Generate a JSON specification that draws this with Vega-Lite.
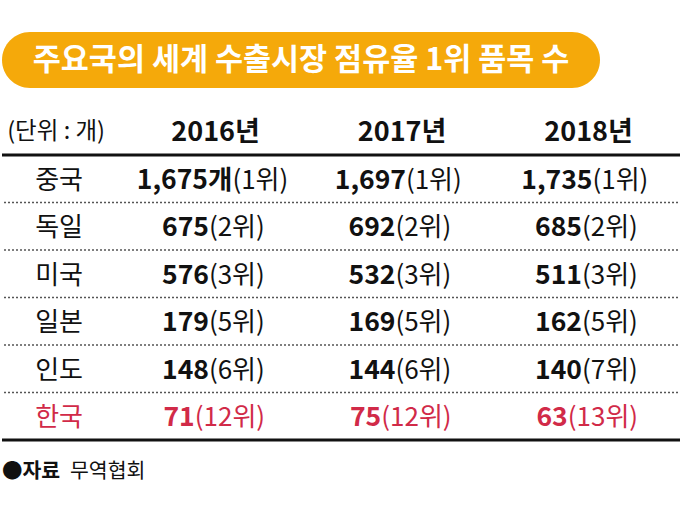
{
  "$schema": "https://vega.github.io/schema/vega-lite/v6.json",
  "padding": {"top": 32, "left": 0, "right": 0, "bottom": 0},
  "background": "white",
  "config": {"view": {"stroke": null}, "font": "Noto Sans CJK KR", "text": {"font": "Noto Sans CJK KR"}},
  "spacing": 19.5,
  "resolve": {"scale": {"x": "independent", "y": "independent"}},
  "vconcat": [
    {
      "width": 598,
      "height": 56,
      "data": {"values": [{"title": "주요국의 세계 수출시장 점유율 1위 품목 수"}]},
      "layer": [
        {"mark": {"type": "rect", "color": "#f5a90a", "cornerRadius": 28}, "encoding": {}},
        {"mark": {"type": "text", "color": "white", "fontSize": 30.5, "fontWeight": "bold", "dy": 1}, "encoding": {"text": {"field": "title"}}}
      ]
    },
    {
      "width": 680,
      "height": 332.5,
      "data": {"values": [
        {"country": "중국", "year": 2016, "count": 1675, "rank": 1, "unit": "개"},
        {"country": "중국", "year": 2017, "count": 1697, "rank": 1, "unit": ""},
        {"country": "중국", "year": 2018, "count": 1735, "rank": 1, "unit": ""},
        {"country": "독일", "year": 2016, "count": 675, "rank": 2, "unit": ""},
        {"country": "독일", "year": 2017, "count": 692, "rank": 2, "unit": ""},
        {"country": "독일", "year": 2018, "count": 685, "rank": 2, "unit": ""},
        {"country": "미국", "year": 2016, "count": 576, "rank": 3, "unit": ""},
        {"country": "미국", "year": 2017, "count": 532, "rank": 3, "unit": ""},
        {"country": "미국", "year": 2018, "count": 511, "rank": 3, "unit": ""},
        {"country": "일본", "year": 2016, "count": 179, "rank": 5, "unit": ""},
        {"country": "일본", "year": 2017, "count": 169, "rank": 5, "unit": ""},
        {"country": "일본", "year": 2018, "count": 162, "rank": 5, "unit": ""},
        {"country": "인도", "year": 2016, "count": 148, "rank": 6, "unit": ""},
        {"country": "인도", "year": 2017, "count": 144, "rank": 6, "unit": ""},
        {"country": "인도", "year": 2018, "count": 140, "rank": 7, "unit": ""},
        {"country": "한국", "year": 2016, "count": 71, "rank": 12, "unit": ""},
        {"country": "한국", "year": 2017, "count": 75, "rank": 12, "unit": ""},
        {"country": "한국", "year": 2018, "count": 63, "rank": 13, "unit": ""}
      ]},
      "transform": [
        {"calculate": "format(datum.count, ',') + datum.unit", "as": "numText"},
        {"calculate": "'(' + datum.rank + '위)'", "as": "rankText"},
        {"calculate": "datum.year + '년'", "as": "yearText"},
        {"calculate": "length(toString(datum.count)) * 14.5 + (datum.count >= 1000 ? 6.5 : 0) + length(datum.unit) * 26", "as": "wNum"},
        {"calculate": "17 + length(toString(datum.rank)) * 13.8 + 26", "as": "wRank"},
        {"calculate": "datum.year + (datum.wNum - datum.wRank) / 2 / 186.5", "as": "xs"}
      ],
      "layer": [
        {
          "transform": [{"filter": "datum.year === 2016"}],
          "mark": {"type": "text", "fontSize": 26, "dy": 2},
          "encoding": {
            "x": {"datum": 2015.161, "type": "quantitative", "scale": {"domain": [2014.855, 2018.501], "nice": false, "zero": false}, "axis": null},
            "y": {"field": "country", "type": "nominal", "scale": {"type": "band", "domain": ["(단위 : 개)", "중국", "독일", "미국", "일본", "인도", "한국"], "paddingInner": 0, "paddingOuter": 0}, "axis": null},
            "text": {"field": "country"},
            "color": {"condition": {"test": "datum.country === '한국'", "value": "#d12a48"}, "value": "#111111"}
          }
        },
        {
          "transform": [{"filter": "datum.year === 2016 && datum.country !== '중국'"}],
          "mark": {"type": "rule", "color": "#555555", "strokeWidth": 1.5, "strokeDash": [2, 2]},
          "encoding": {"y": {"field": "country", "type": "nominal", "bandPosition": 0}}
        },
        {
          "transform": [{"filter": "datum.year === 2016 && datum.country === '중국'"}],
          "mark": {"type": "rule", "color": "#111111", "strokeWidth": 3},
          "encoding": {"y": {"field": "country", "type": "nominal", "bandPosition": 0}}
        },
        {
          "transform": [{"filter": "datum.year === 2016 && datum.country === '한국'"}],
          "mark": {"type": "rule", "color": "#111111", "strokeWidth": 3},
          "encoding": {"y": {"field": "country", "type": "nominal", "bandPosition": 1}}
        },
        {
          "transform": [{"filter": "datum.country === '중국'"}],
          "mark": {"type": "text", "fontSize": 27, "fontWeight": "bold", "color": "#111111", "dy": 2},
          "encoding": {
            "x": {"field": "year", "type": "quantitative"},
            "y": {"datum": "(단위 : 개)", "type": "nominal"},
            "text": {"field": "yearText"}
          }
        },
        {
          "transform": [{"filter": "datum.country === '중국' && datum.year === 2016"}],
          "mark": {"type": "text", "fontSize": 23.5, "color": "#111111", "dy": 1},
          "encoding": {
            "x": {"datum": 2015.145, "type": "quantitative"},
            "y": {"datum": "(단위 : 개)", "type": "nominal"},
            "text": {"value": "(단위 : 개)"}
          }
        },
        {
          "mark": {"type": "text", "fontSize": 26.5, "fontWeight": "bold", "align": "right", "dy": 2},
          "encoding": {
            "x": {"field": "xs", "type": "quantitative"},
            "y": {"field": "country", "type": "nominal"},
            "text": {"field": "numText"},
            "color": {"condition": {"test": "datum.country === '한국'", "value": "#d12a48"}, "value": "#111111"}
          }
        },
        {
          "mark": {"type": "text", "fontSize": 26, "align": "left", "dy": 2},
          "encoding": {
            "x": {"field": "xs", "type": "quantitative"},
            "y": {"field": "country", "type": "nominal"},
            "text": {"field": "rankText"},
            "color": {"condition": {"test": "datum.country === '한국'", "value": "#d12a48"}, "value": "#111111"}
          }
        }
      ]
    },
    {
      "width": 680,
      "height": 15,
      "data": {"values": [{"label": "●자료", "source": "무역협회"}]},
      "layer": [
        {
          "mark": {"type": "text", "align": "left", "fontSize": 20.5, "fontWeight": "bold", "color": "#111111"},
          "encoding": {
            "x": {"datum": 0, "type": "quantitative", "scale": {"domain": [0, 1], "nice": false}, "axis": null},
            "text": {"field": "label"}
          }
        },
        {
          "mark": {"type": "text", "align": "left", "fontSize": 20.5, "color": "#111111", "dx": 68},
          "encoding": {
            "x": {"datum": 0, "type": "quantitative"},
            "text": {"field": "source"}
          }
        }
      ]
    }
  ]
}
